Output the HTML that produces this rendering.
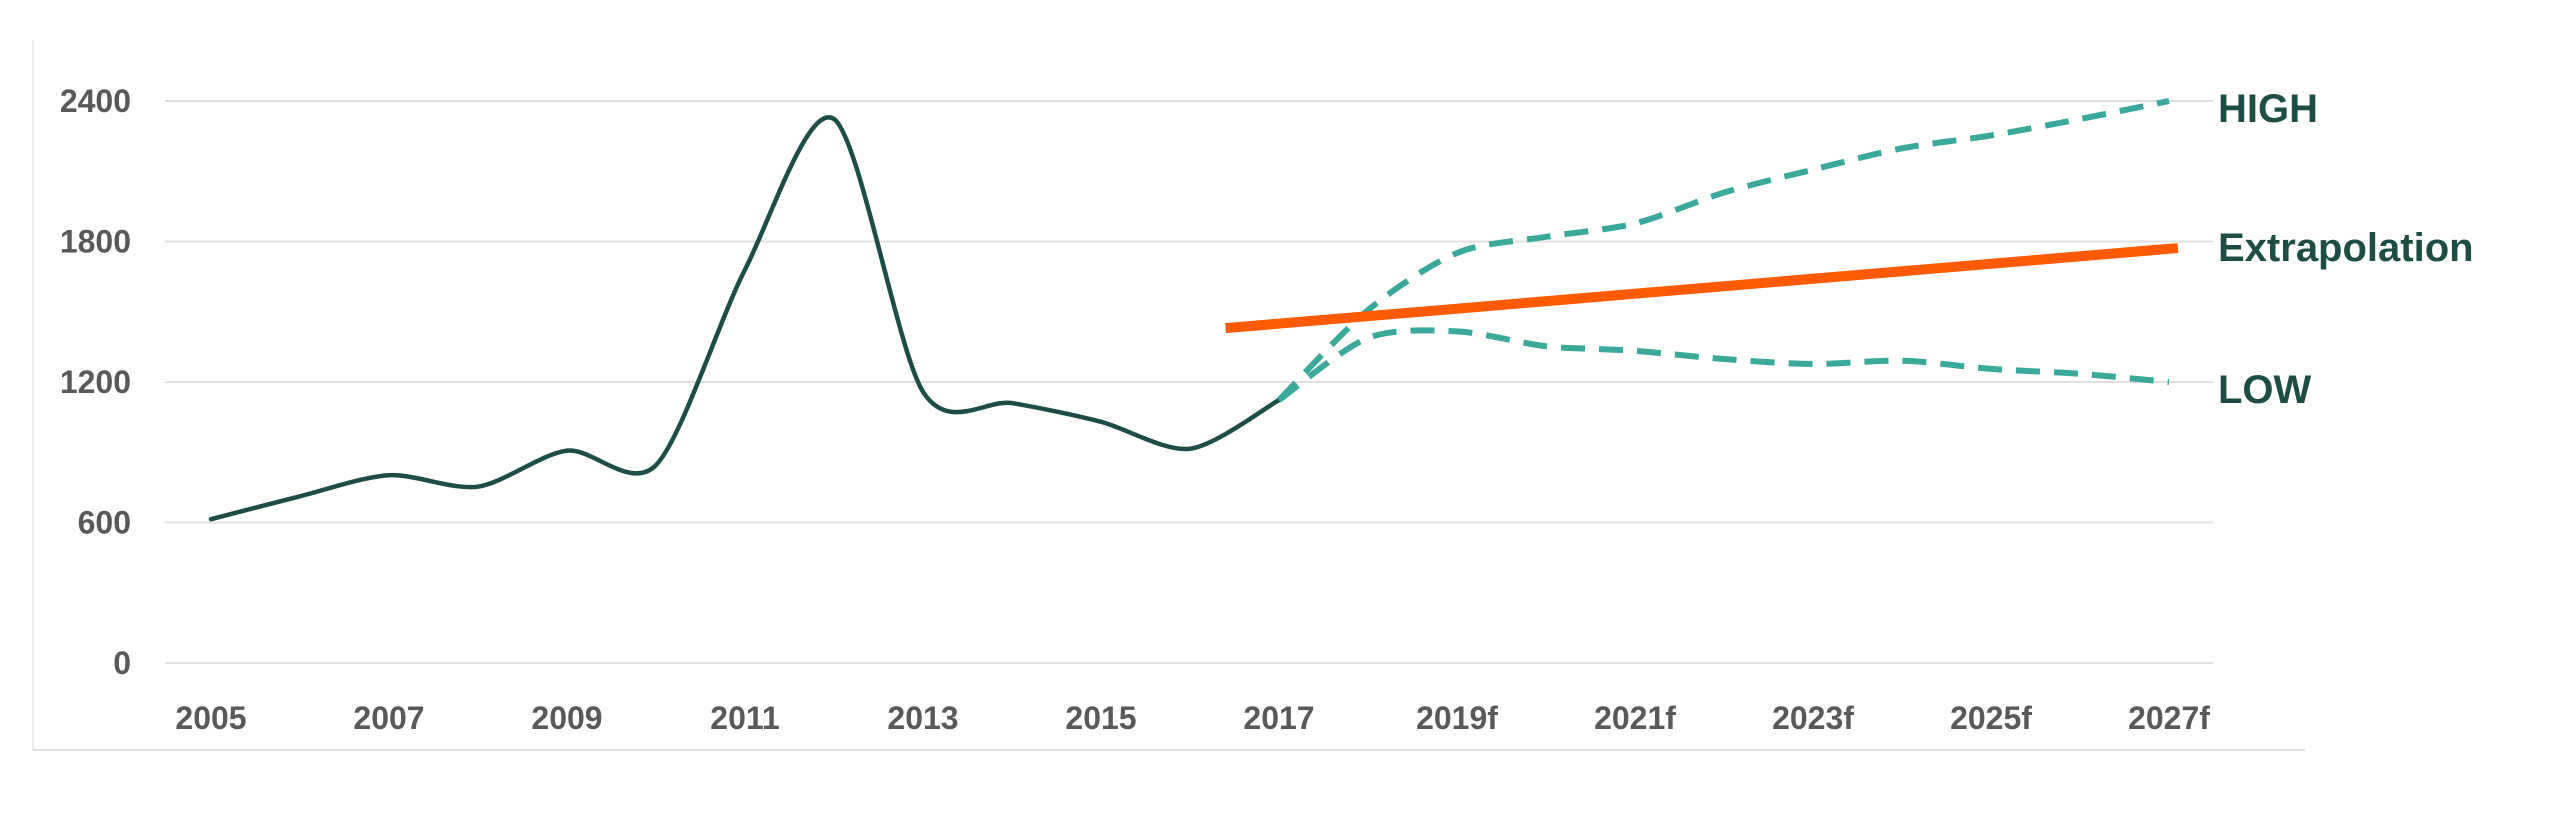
<!DOCTYPE html>
<html><head><meta charset="utf-8"><style>
html,body{margin:0;padding:0;background:#fff;}
svg{display:block;font-family:"Liberation Sans",sans-serif;}
</style></head><body>
<svg id="chart" width="2560" height="838" viewBox="0 0 2560 838" xmlns="http://www.w3.org/2000/svg">
<line x1="33" y1="40" x2="33" y2="750" stroke="#ececec" stroke-width="2"/>
<line x1="33" y1="750" x2="2305" y2="750" stroke="#e0e0e0" stroke-width="2"/>
<g id="grid"></g><g id="ylabels"></g><g id="xlabels"></g><g id="series"></g>
<text x="2218" y="122" font-size="40" font-weight="bold" fill="#1e4d43">HIGH</text>
<text x="2218" y="261" font-size="40" font-weight="bold" fill="#1e4d43">Extrapolation</text>
<text x="2218" y="403" font-size="40" font-weight="bold" fill="#1e4d43">LOW</text>
</svg>
<script>
const years = [2005,2006,2007,2008,2009,2010,2011,2012,2013,2014,2015,2016,2017];
const actual = [614,712,802,753,907,845,1680,2323,1158,1110,1030,915,1123];
const fYears = [2017,2018,2019,2020,2021,2022,2023,2024,2025,2026,2027];
const high = [1123,1507,1751,1820,1877,2009,2107,2198,2253,2323,2400];
const low = [1123,1388,1416,1353,1333,1298,1277,1291,1256,1235,1200];
const extYears = [2016.4,2027.1];
const extVals = [1430,1772];
const yTicks = [0,600,1200,1800,2400];
const xTickLabels = ["2005","2007","2009","2011","2013","2015","2017","2019f","2021f","2023f","2025f","2027f"];

const NS="http://www.w3.org/2000/svg";
const X=y=>211+(y-2005)*89;
const Y=v=>663-v*(663-101)/2400;
function mk(tag,attrs,parent){const e=document.createElementNS(NS,tag);for(const k in attrs)e.setAttribute(k,attrs[k]);parent.appendChild(e);return e;}
const grid=document.getElementById('grid'),yl=document.getElementById('ylabels'),xl=document.getElementById('xlabels'),ser=document.getElementById('series');
yTicks.forEach(t=>{
  const l=mk('line',{x1:165,x2:2213,y1:Y(t),y2:Y(t),stroke:'#e0e0e0','stroke-width':2},grid);
  
  
  const tx=mk('text',{x:131,y:Y(t)+11,'text-anchor':'end','font-size':32,'font-weight':'bold',fill:'#595959'},yl);
  tx.textContent=t;
  
  
});
xTickLabels.forEach((s,i)=>{
  const tx=mk('text',{x:X(2005+i*2),y:729,'text-anchor':'middle','font-size':32,'font-weight':'bold',fill:'#595959'},xl);
  tx.textContent=s;
  
  
});
function smooth(xs,vs){
  const p=xs.map((x,i)=>[X(x),Y(vs[i])]);
  let d=`M${p[0][0]},${p[0][1]}`;
  for(let i=0;i<p.length-1;i++){
    const p0=p[Math.max(0,i-1)],p1=p[i],p2=p[i+1],p3=p[Math.min(p.length-1,i+2)];
    const c1=[p1[0]+(p2[0]-p0[0])/7,p1[1]+(p2[1]-p0[1])/7];
    const c2=[p2[0]-(p3[0]-p1[0])/7,p2[1]-(p3[1]-p1[1])/7];
    d+=` C${c1[0]},${c1[1]} ${c2[0]},${c2[1]} ${p2[0]},${p2[1]}`;
  }
  return d;
}
const a=mk('path',{d:smooth(years,actual),fill:'none',stroke:'#1d4d44','stroke-width':4.5,'stroke-linecap':'round'},ser);


const h=mk('path',{d:smooth(fYears,high),fill:'none',stroke:'#3aa99a','stroke-width':6,'stroke-dasharray':'24 14'},ser);


const lo=mk('path',{d:smooth(fYears,low),fill:'none',stroke:'#3aa99a','stroke-width':6,'stroke-dasharray':'24 14'},ser);


const ex=mk('line',{x1:X(extYears[0]),y1:Y(extVals[0]),x2:X(extYears[1]),y2:Y(extVals[1]),stroke:'#ff5a00','stroke-width':10},ser);


</script>
</body></html>
